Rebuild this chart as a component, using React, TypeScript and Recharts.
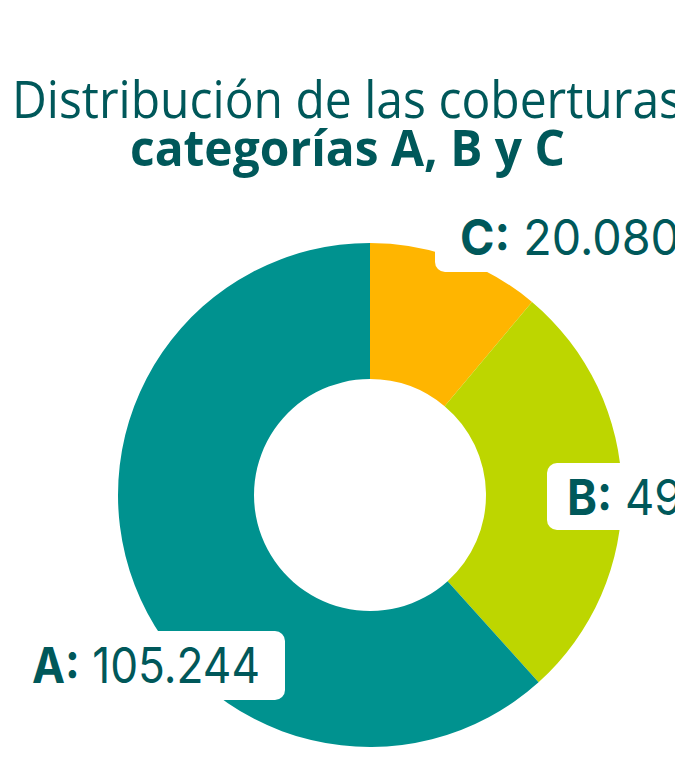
import React from "react";
import { PieChart, Pie, Cell } from "recharts";

// Categorías en orden horario desde las 12
const categories = ["C", "B", "A"];
// tamaños de los sectores
const coverageValues = [18970, 46460, 105244];
// textos de las etiquetas
const valueLabels = ["20.080", "49.276", "105.244"];
const COLORS = ["#FFB500", "#BDD600", "#00928F"];

const TEXT_COLOR = "#00585A";
const LABEL_FONT = "Inter, 'Noto Sans', sans-serif";

const data = categories.map((name, i) => ({
  name,
  value: coverageValues[i],
  label: valueLabels[i],
}));

// posición de cada caja de etiqueta respecto al centro del donut
const labelBoxes = [
  { dx: 65, dy: -292, w: 300, h: 69, textX: 90, textLen: 220 },
  { dx: 177, dy: -32, w: 200, h: 67, textX: 197, textLen: 208 },
  { dx: -405, dy: 136, w: 320, h: 69, textX: -338, textLen: 228 },
];

const renderLabel = (props: any) => {
  const { cx, cy, index, payload } = props;
  const box = labelBoxes[index];
  const x = cx + box.dx;
  const y = cy + box.dy;
  return (
    <g key={`label-${index}`}>
      <rect x={x} y={y} width={box.w} height={box.h} rx={10} ry={10} fill="#ffffff" />
      <text
        x={cx + box.textX}
        y={y + 52}
        fill={TEXT_COLOR}
        fontFamily={LABEL_FONT}
        fontSize={49}
        textLength={box.textLen}
        lengthAdjust="spacingAndGlyphs"
      >
        <tspan fontWeight={700}>{payload.name}:</tspan>
        <tspan fontWeight={400}> {payload.label}</tspan>
      </text>
    </g>
  );
};

const App: React.FC = () => {
  return (
    <div style={{ position: "absolute", left: 0, top: 0, width: 675, height: 757, background: "#fff" }}>
      <svg
        width={675}
        height={757}
        style={{ position: "absolute", left: 0, top: 0 }}
      >
        <text
          x={12}
          y={118}
          fill={TEXT_COLOR}
          fontFamily="'Open Sans', sans-serif"
          fontSize={51}
          textLength={670}
          lengthAdjust="spacingAndGlyphs"
        >
          Distribución de las coberturas
        </text>
        <text
          x={130}
          y={166}
          fill={TEXT_COLOR}
          fontFamily="'Open Sans', sans-serif"
          fontWeight={700}
          fontSize={50}
          textLength={435}
          lengthAdjust="spacingAndGlyphs"
        >
          categorías A, B y C
        </text>
      </svg>
      <div style={{ position: "absolute", left: 0, top: 0 }}>
        <PieChart width={675} height={757} margin={{ top: 0, right: 0, bottom: 0, left: 0 }}>
          <Pie
            data={data}
            dataKey="value"
            nameKey="name"
            cx={370}
            cy={495}
            innerRadius={116}
            outerRadius={252}
            startAngle={90}
            endAngle={-270}
            stroke="none"
            labelLine={false}
            label={renderLabel}
            isAnimationActive={false}
          >
            {data.map((entry, index) => (
              <Cell key={`cell-${index}`} fill={COLORS[index % COLORS.length]} />
            ))}
          </Pie>
        </PieChart>
      </div>
    </div>
  );
};

export default App;
